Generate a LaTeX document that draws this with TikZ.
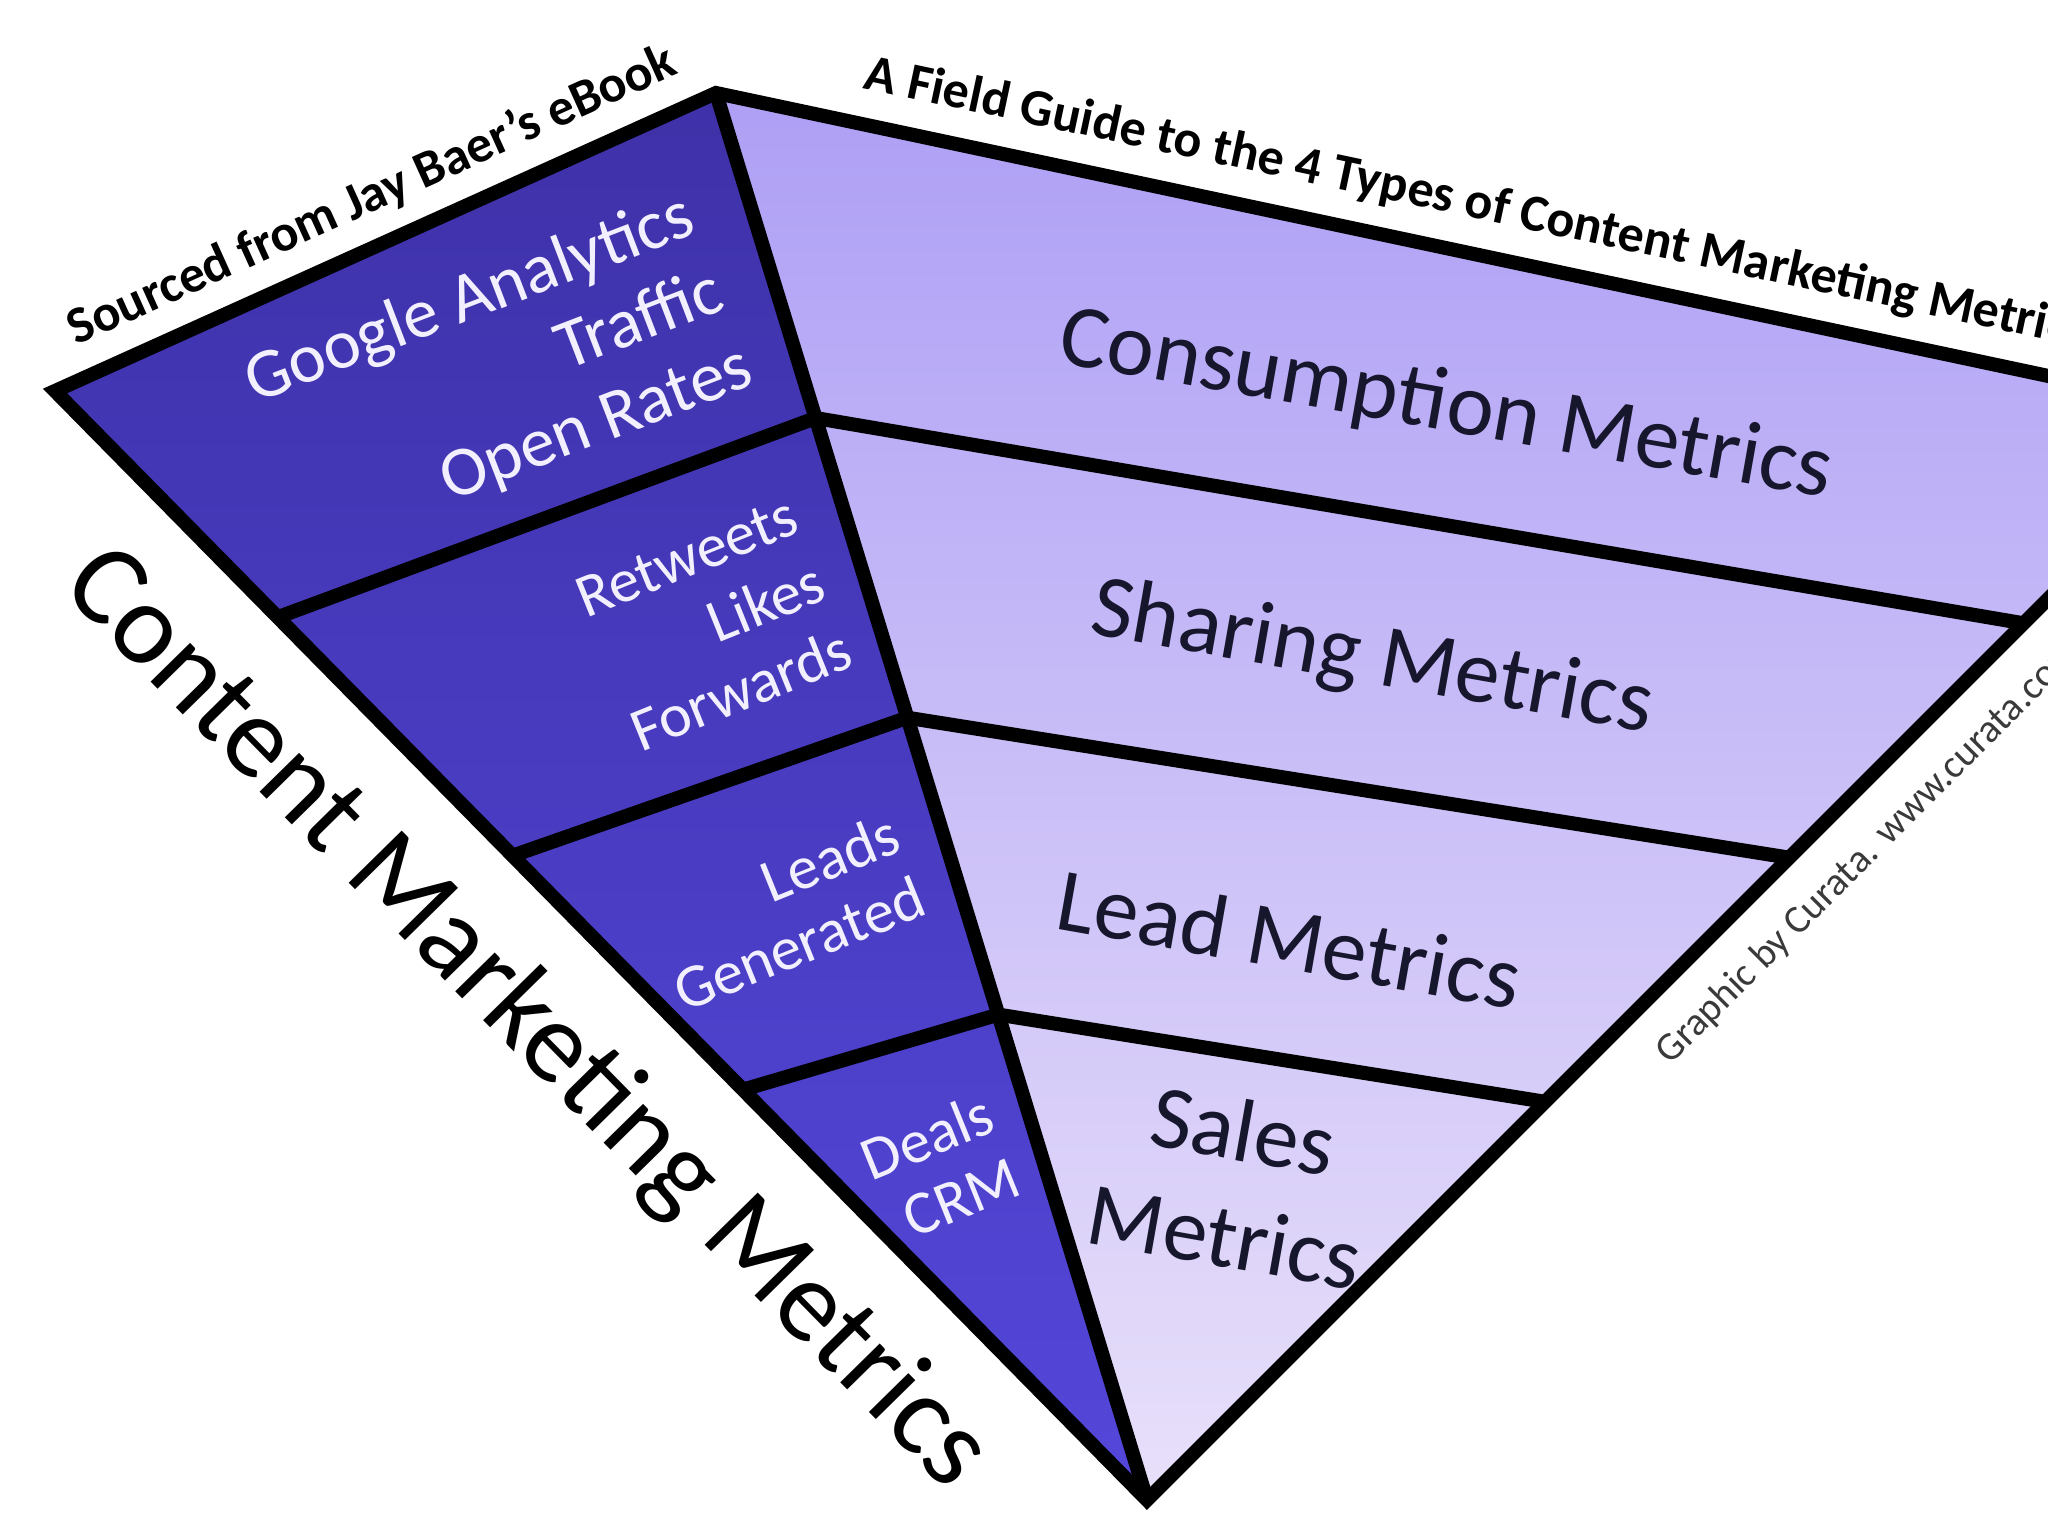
\documentclass[tikz,border=0pt]{standalone}
\usepackage{fontspec}
\setmainfont{Carlito}
\usetikzlibrary{calc}
\definecolor{darkTop}{HTML}{3E31A8}
\definecolor{darkBot}{HTML}{5447DA}
\definecolor{lightTop}{HTML}{AE9FF5}
\definecolor{lightBot}{HTML}{E8E0FA}
\definecolor{ink}{HTML}{16162C}
\definecolor{paleText}{HTML}{F2F0FF}
\definecolor{creditGray}{HTML}{3A3A3A}
\begin{document}
\begin{tikzpicture}[x=0.01cm,y=-0.01cm,
  edge/.style={line width=4pt, line join=miter, draw=black},
  metric/.style={font=\fontsize{25.5}{30.5}\selectfont, text=ink, rotate=-10, inner sep=0pt},
  source/.style={text=paleText, inner sep=0pt, align=right, rotate=22},
  edgetext/.style={font=\bfseries\fontsize{14.8}{17}\selectfont, inner sep=0pt}]

\path[use as bounding box] (0,0) rectangle (2048,1536);
\clip (0,0) rectangle (2048,1536);
\fill[white] (0,0) rectangle (2048,1536);

\coordinate (L) at (55,391);
\coordinate (A) at (716,93);
\coordinate (R) at (2232,415);
\coordinate (B) at (1147,1500);

\coordinate (d1l) at ($(L)!0.204!(B)$);
\coordinate (d2l) at ($(L)!0.419!(B)$);
\coordinate (d3l) at ($(L)!0.630!(B)$);
\coordinate (d1c) at ($(A)!0.231!(B)$);
\coordinate (d2c) at ($(A)!0.444!(B)$);
\coordinate (d3c) at ($(A)!0.655!(B)$);
\coordinate (d1r) at ($(R)!0.192!(B)$);
\coordinate (d2r) at ($(R)!0.408!(B)$);
\coordinate (d3r) at ($(R)!0.633!(B)$);

\shade[top color=darkTop, bottom color=darkBot] (L) -- (A) -- (B) -- cycle;
\shade[top color=lightTop, bottom color=lightBot] (A) -- (R) -- (B) -- cycle;

\draw[edge] (d1l) -- (d1c) -- (d1r);
\draw[edge] (d2l) -- (d2c) -- (d2r);
\draw[edge] (d3l) -- (d3c) -- (d3r);
\draw[edge] (A) -- (B);
\draw[edge] (L) -- (A) -- (R) -- (B) -- cycle;

\node[edgetext, rotate=24.3, anchor=base west] (src) at (76,346) {Sourced from Jay Baer's eBook};
\node[edgetext, rotate=-12, anchor=base west] (title) at (862,88) {A Field Guide to the 4 Types of Content Marketing Metrics};
\node[font=\fontsize{11.3}{14}\selectfont, text=creditGray, rotate=45, anchor=base west, inner sep=0pt] (credit) at (1670,1066) {Graphic by Curata. www.curata.com};
\node[font=\fontsize{33}{40}\selectfont, text=black, rotate=-45.5, anchor=base west, inner sep=0pt] (cmm) at (59,588) {Content Marketing Metrics};

\node[source, rotate=-1, font=\fontsize{20}{23}\selectfont] (ga) at (499,376) {Google Analytics\\Traffic\\Open Rates};
\node[source, font=\fontsize{17.5}{20.5}\selectfont] (rt) at (714,624) {Retweets\\Likes\\Forwards};
\node[source, font=\fontsize{17.5}{19.5}\selectfont] (ld) at (786,912) {Leads\\Generated};
\node[source, font=\fontsize{17.5}{19.5}\selectfont] (dl) at (940,1168) {Deals\\CRM};

\node[metric, anchor=base] (cons) at (1442,430) {Consumption Metrics};
\node[metric, anchor=base] (shar) at (1368,683) {Sharing Metrics};
\node[metric, anchor=base] (lead) at (1284,969) {Lead Metrics};
\node[metric, align=center] (sale) at (1234,1183) {Sales\\Metrics};
\end{tikzpicture}
\end{document}
